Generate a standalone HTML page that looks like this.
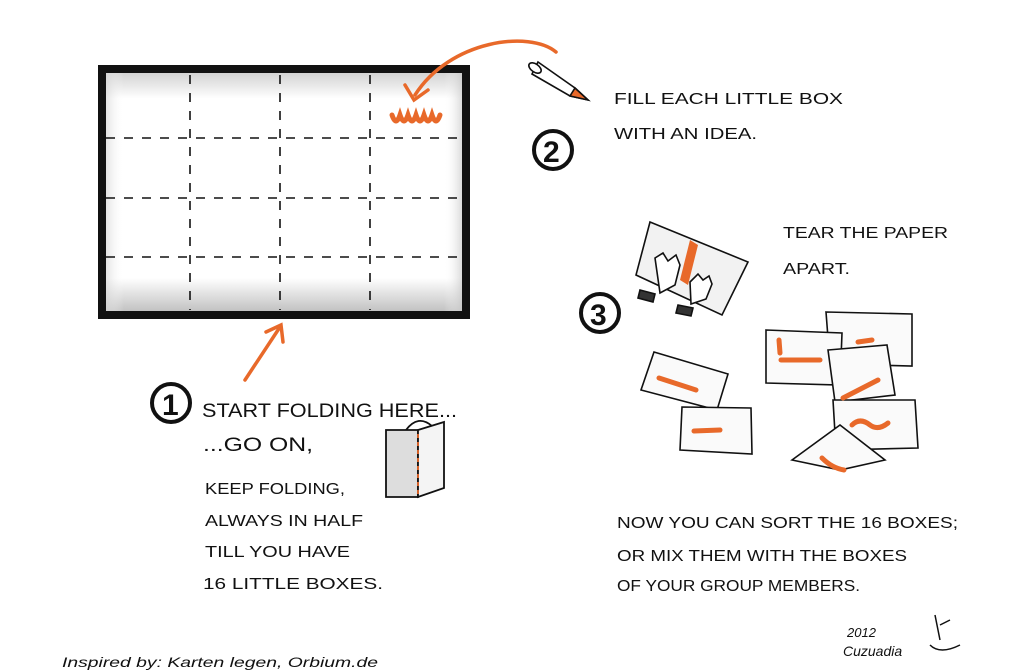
<!DOCTYPE html>
<html><head><meta charset="utf-8"><style>
html,body{margin:0;padding:0;background:#fff;}
svg{display:block}
text{font-family:"Liberation Sans",sans-serif;fill:#111;}
.h{font-size:16px;}
.b{font-size:19px;}
</style></head><body>
<svg width="1024" height="672" viewBox="0 0 1024 672" xmlns="http://www.w3.org/2000/svg">
<defs>
<linearGradient id="gv" x1="0" y1="0" x2="0" y2="1">
<stop offset="0" stop-color="#ccc"/><stop offset="0.12" stop-color="#fff"/><stop offset="0.85" stop-color="#fff"/><stop offset="1" stop-color="#bbb"/></linearGradient>
<linearGradient id="gh" x1="0" y1="0" x2="1" y2="0">
<stop offset="0" stop-color="#ccc" stop-opacity="0.8"/><stop offset="0.06" stop-color="#fff" stop-opacity="0"/><stop offset="0.94" stop-color="#fff" stop-opacity="0"/><stop offset="1" stop-color="#bbb" stop-opacity="0.8"/></linearGradient>
</defs>
<rect width="1024" height="672" fill="#fff"/>
<rect x="102" y="69" width="364" height="246" fill="url(#gv)"/>
<rect x="102" y="69" width="364" height="246" fill="url(#gh)"/>
<g stroke="#111" stroke-width="1.6" stroke-dasharray="9,9" fill="none">
<line x1="190" y1="75" x2="190" y2="310"/><line x1="280" y1="75" x2="280" y2="310"/><line x1="370" y1="75" x2="370" y2="310"/>
<line x1="106" y1="138" x2="462" y2="138"/><line x1="106" y1="198" x2="462" y2="198"/><line x1="106" y1="257" x2="462" y2="257"/>
</g>
<rect x="102" y="69" width="364" height="246" fill="none" stroke="#111" stroke-width="8"/>
<g stroke="#e8692a" stroke-width="3.5" fill="none" stroke-linecap="round">
<path d="M556 52 C530 30 450 40 415 95"/><path d="M405 85 L414 100 L428 90"/>
<path d="M392 115 q4 12 8 0 q4 12 8 0 q4 12 8 0 q4 12 8 0 q4 12 8 0 q4 12 8 0" stroke-width="5"/>
<path d="M245 380 L280 327"/><path d="M266 332 L281 325 L283 342"/>
</g>
<g stroke="#111" stroke-width="1.6" fill="#fff">
<path d="M538 62 L575 88 L588 100 L570 96 L532 74 Z"/>
<path d="M575 88 L588 100 L570 96 Z" fill="#e8692a"/>
<ellipse cx="535" cy="68" rx="4" ry="7" transform="rotate(-55 535 68)"/>
</g>
<g fill="none" stroke="#111" stroke-width="4">
<circle cx="553" cy="150" r="19"/><circle cx="600" cy="313" r="19"/><circle cx="171" cy="403" r="19"/>
</g>
<text x="543" y="162" style="font-size:30px;font-weight:bold">2</text>
<text x="590" y="325" style="font-size:30px;font-weight:bold">3</text>
<text x="162" y="415" style="font-size:30px;font-weight:bold">1</text>
<text class="h" x="614" y="104" textLength="229" lengthAdjust="spacingAndGlyphs">FILL EACH LITTLE BOX</text>
<text class="h" x="614" y="139" textLength="143" lengthAdjust="spacingAndGlyphs">WITH AN IDEA.</text>
<text class="h" x="783" y="238" textLength="165" lengthAdjust="spacingAndGlyphs">TEAR THE PAPER</text>
<text class="h" x="783" y="274" textLength="67" lengthAdjust="spacingAndGlyphs">APART.</text>
<text class="b" x="202" y="417" textLength="255" lengthAdjust="spacingAndGlyphs">START FOLDING HERE...</text>
<text class="b" x="203" y="451" textLength="110" lengthAdjust="spacingAndGlyphs">...GO ON,</text>
<text class="h" x="205" y="494" textLength="140" lengthAdjust="spacingAndGlyphs">KEEP FOLDING,</text>
<text class="h" x="205" y="526" textLength="158" lengthAdjust="spacingAndGlyphs">ALWAYS IN HALF</text>
<text class="h" x="205" y="557" textLength="145" lengthAdjust="spacingAndGlyphs">TILL YOU HAVE</text>
<text class="h" x="203" y="589" textLength="180" lengthAdjust="spacingAndGlyphs">16 LITTLE BOXES.</text>
<text class="h" x="617" y="528" textLength="341" lengthAdjust="spacingAndGlyphs">NOW YOU CAN SORT THE 16 BOXES;</text>
<text class="h" x="617" y="561" textLength="290" lengthAdjust="spacingAndGlyphs">OR MIX THEM WITH THE BOXES</text>
<text class="h" x="617" y="591" textLength="243" lengthAdjust="spacingAndGlyphs">OF YOUR GROUP MEMBERS.</text>
<text x="62" y="667" textLength="316" lengthAdjust="spacingAndGlyphs" style="font-size:14px;font-style:italic">Inspired by: Karten legen, Orbium.de</text>
<text x="847" y="637" style="font-size:13px;font-style:italic">2012</text>
<text x="843" y="656" style="font-size:14px;font-style:italic">Cuzuadia</text>
<path d="M935 615 l5 25 M940 625 l10 -5 M930 645 q10 10 30 0" stroke="#111" stroke-width="1.5" fill="none"/>
<g stroke="#111" stroke-width="1.8">
<path d="M386 430 L418 430 L418 497 L386 497 Z" fill="#ddd"/>
<path d="M418 430 L444 422 L444 488 L418 497 Z" fill="#f4f4f4"/>
<path d="M418 434 L418 495" stroke="#e8692a" stroke-dasharray="4,4"/>
<path d="M406 430 q12 -16 26 -4" fill="none"/>
</g>
<g stroke="#111" stroke-width="1.6">
<path d="M650 222 L748 262 L722 315 L636 275 Z" fill="#f2f2f2"/>
<path d="M690 240 l-10 40 l8 5 l10 -40 z" fill="#e8692a" stroke="none"/>
<path d="M655 258 l8 -5 l5 8 l8 -6 l4 10 l-5 20 l-15 8 z" fill="#fff"/>
<path d="M690 282 l8 -8 l5 6 l6 -4 l3 8 l-6 15 l-15 5 z" fill="#fff"/>
<path d="M640 290 l15 4 l-2 8 l-15 -4 z M678 305 l15 3 l-2 8 l-15 -3 z" fill="#333"/>
</g>
<g stroke="#111" stroke-width="1.6" fill="#fafafa">
<path d="M826 312 L912 314 L912 366 L830 364 Z"/>
<path d="M766 330 L842 333 L840 385 L766 383 Z"/>
<path d="M828 350 L887 345 L895 395 L835 402 Z"/>
<path d="M833 400 L915 400 L918 448 L836 450 Z"/>
<path d="M654 352 L728 374 L717 410 L641 390 Z"/>
<path d="M682 407 L751 408 L752 454 L680 450 Z"/>
<path d="M792 460 L840 425 L885 460 L840 470 Z"/>
</g>
<g stroke="#e8692a" stroke-width="5" stroke-linecap="round" fill="none">
<path d="M858 342 L872 340"/><path d="M779 340 L780 353"/><path d="M781 360 L820 360"/>
<path d="M843 398 L878 380"/><path d="M852 425 q8 -8 18 0 q8 6 18 -2"/>
<path d="M659 378 L696 390"/><path d="M694 431 L720 430"/><path d="M822 458 q10 10 22 12"/>
</g>
</svg>
</body></html>
